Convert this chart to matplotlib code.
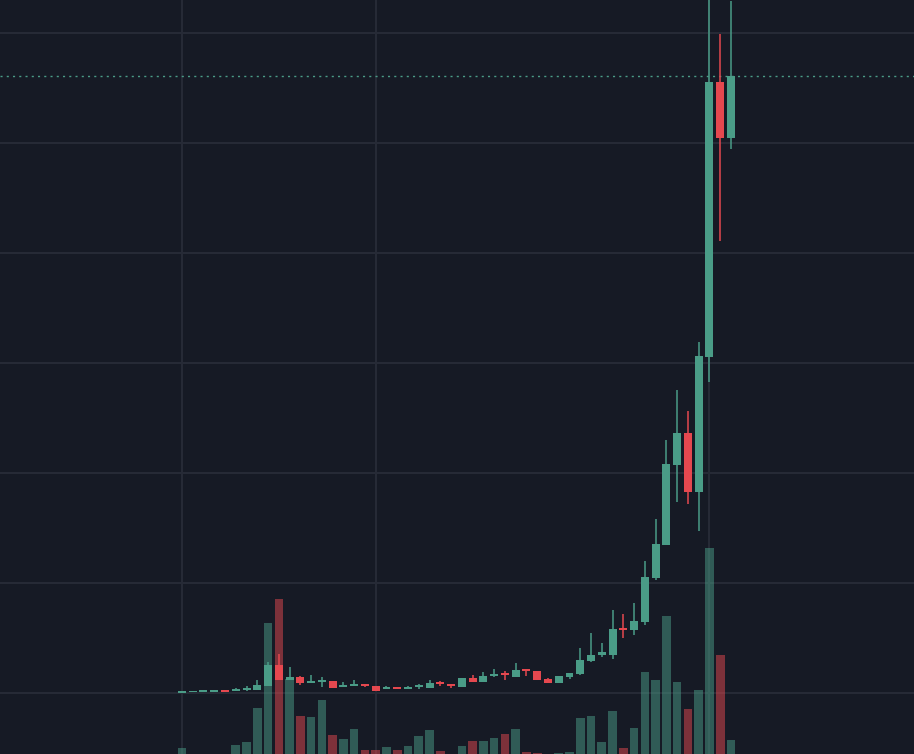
import numpy as np
import matplotlib
matplotlib.use("Agg")
import matplotlib.pyplot as plt

# daily candles (arbitrary price units)
opens = [0.2, 0.3, 0.4, 0.4, 0.8, 0.9, 1.4, 1.4, 3.2, 12.9,
         5.9, 7.3, 4.5, 5.0, 5.5, 2.7, 3.2, 4.1, 3.2, 1.8,
         2.7, 1.8, 2.7, 2.3, 5.0, 4.1, 2.7, 6.8, 5.0, 7.7,
         9.1, 7.3, 10.9, 10.0, 6.4, 4.5, 7.3, 8.6, 14.5, 17.3,
         17.3, 29.5, 28.6, 32.3, 52.3, 67.3, 103.6, 118.2, 91.4, 152.7,
         277.7, 252.3]
closes = [0.6, 0.8, 0.8, 0.8, 0.4, 1.8, 2.3, 3.6, 12.9, 5.9,
          7.3, 4.5, 5.5, 5.9, 2.3, 3.6, 4.1, 3.2, 0.9, 2.7,
          2.0, 2.7, 3.6, 4.5, 4.1, 3.3, 6.8, 5.0, 7.7, 8.6,
          8.2, 10.5, 10.0, 5.9, 4.5, 7.7, 9.1, 15.0, 17.3, 18.6,
          29.1, 28.6, 32.7, 52.7, 67.7, 104.1, 118.2, 91.4, 153.2, 277.7,
          252.3, 280.5]
highs = [0.6, 0.8, 0.8, 0.8, 0.8, 2.3, 3.2, 5.9, 14.1, 17.7,
         11.8, 7.7, 8.2, 7.3, 5.5, 5.0, 5.9, 4.1, 3.2, 3.2,
         2.7, 3.2, 4.2, 5.9, 5.5, 4.1, 6.8, 8.2, 9.5, 10.9,
         10.0, 13.6, 10.9, 10.0, 6.8, 7.7, 9.1, 20.5, 27.3, 22.7,
         37.7, 35.9, 40.9, 60.0, 79.1, 115.0, 137.7, 128.2, 159.5, 330.0,
         299.5, 314.5]
lows = [0.2, 0.3, 0.4, 0.4, 0.4, 0.9, 0.8, 1.4, 3.2, 5.9,
        5.9, 3.8, 4.5, 2.7, 2.3, 2.7, 3.2, 2.7, 0.9, 1.8,
        2.0, 1.8, 2.0, 2.3, 3.2, 2.3, 2.7, 5.0, 5.0, 7.3,
        5.9, 7.3, 7.7, 5.9, 4.5, 4.5, 6.4, 8.2, 14.1, 16.4,
        15.5, 25.0, 26.4, 30.9, 51.4, 67.3, 86.8, 85.9, 73.6, 141.4,
        205.5, 247.3]
volumes = [0.6, 0.0, 0.0, 0.0, 0.0, 0.9, 1.2, 4.6, 13.1, 15.5,
           7.5, 3.8, 3.7, 5.4, 1.9, 1.5, 2.5, 0.4, 0.4, 0.7,
           0.4, 0.8, 1.8, 2.4, 0.3, 0.0, 0.8, 1.3, 1.3, 1.6,
           2.0, 2.5, 0.2, 0.1, 0.0, 0.1, 0.2, 3.6, 3.8, 1.2,
           4.3, 0.6, 2.6, 8.2, 7.4, 13.8, 7.2, 4.5, 6.4, 20.6,
           9.9, 1.4]
month_starts = [0, 18, 49]

bg = "#161a25"
up = "#4a9c87"
down = "#e5484f"
grid_c = "#262a36"

o = np.array(opens)
c = np.array(closes)
h = np.array(highs)
l = np.array(lows)
v = np.array(volumes)
x = np.arange(len(o))
is_up = c >= o
cols = np.where(is_up, up, down)

fig = plt.figure(figsize=(9.14, 7.54), dpi=100, facecolor=bg)
ax = fig.add_axes([0, 0, 1, 1])
ax.set_facecolor(bg)

# volume overlay on a twin axis at the bottom
axv = ax.twinx()
axv.bar(x, v, width=0.8, color=cols, alpha=0.5, zorder=1)
axv.set_ylim(0, 75.4)
axv.axis("off")
ax.set_zorder(axv.get_zorder() + 1)
ax.patch.set_visible(False)
fig.patch.set_facecolor(bg)

# grid behind everything
for gy in np.arange(0, 301, 50):
    axv.axhline(gy * 75.4 / 342.7 + 27.7 * 75.4 / 342.7, color=grid_c, lw=1.5, zorder=0)
for gx in month_starts:
    axv.axvline(gx, color=grid_c, lw=1.5, zorder=0)

# candles
ax.vlines(x, l, h, colors=cols, lw=1.1, zorder=3)
body = np.maximum(np.abs(c - o), 0.8)
bottom = np.minimum(o, c)
ax.bar(x, body, bottom=bottom, width=0.74, color=cols, zorder=4)

ax.axhline(c[-1], color=up, lw=1.0, ls=(0, (1.5, 3)), zorder=2)

ax.set_xlim(-16.9, 68.0)
ax.set_ylim(-27.7, 315)
axv.set_xlim(-16.9, 68.0)
ax.axis("off")

fig.savefig("out.png", dpi=100, facecolor=bg)
